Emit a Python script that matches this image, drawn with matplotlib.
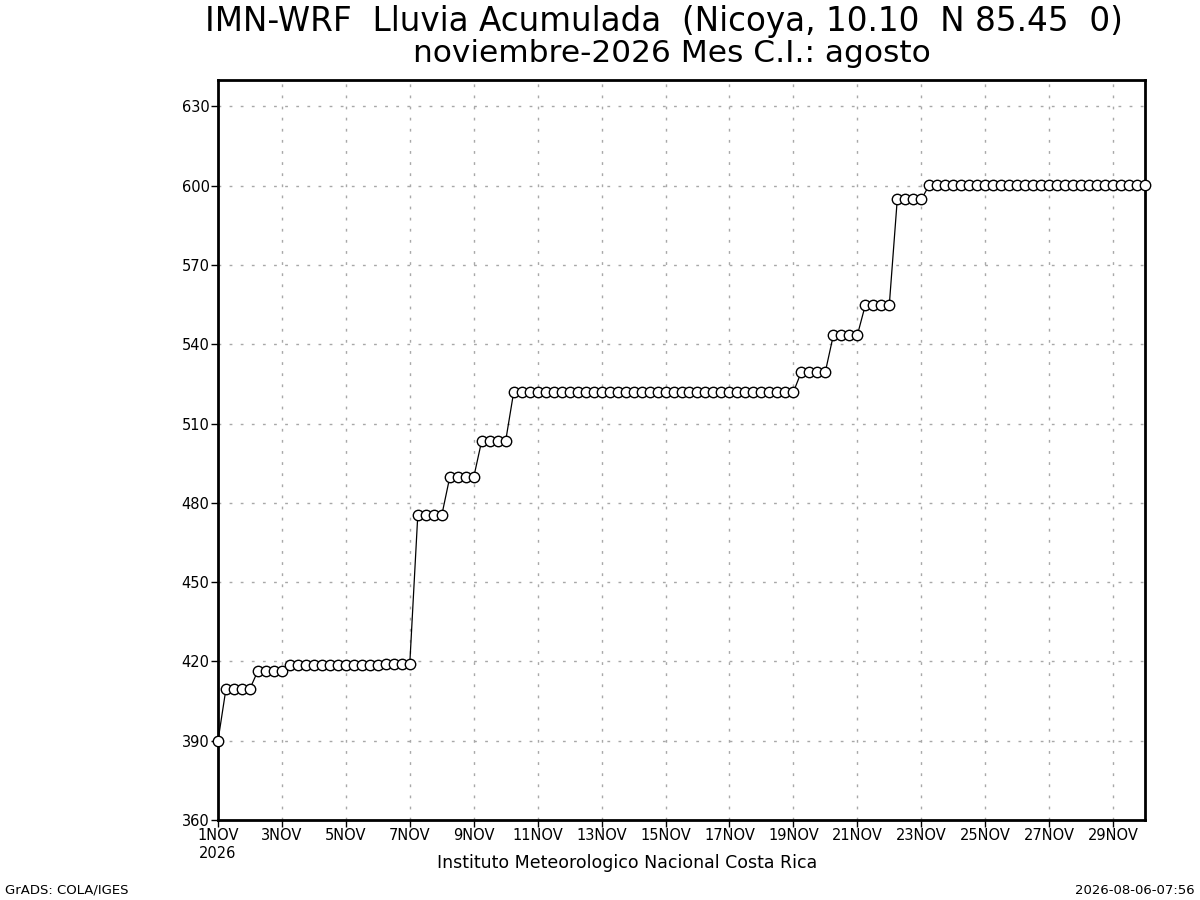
import matplotlib
matplotlib.use("Agg")
from matplotlib import pyplot as plt
import pandas as pd

# lluvia acumulada cada 6 horas (mm)
lluvia = [
    390.0,
    409.7, 409.7, 409.7, 409.7,
    416.5, 416.5, 416.5, 416.5,
    418.6, 418.6, 418.6, 418.6, 418.6, 418.6, 418.6, 418.6, 418.6, 418.6, 418.6, 418.6,
    419.2, 419.2, 419.2, 419.2,
    475.3, 475.3, 475.3, 475.3,
    489.7, 489.7, 489.7, 489.7,
    503.5, 503.5, 503.5, 503.5,
    521.9, 521.9, 521.9, 521.9, 521.9, 521.9, 521.9, 521.9, 521.9, 521.9, 521.9, 521.9,
    521.9, 521.9, 521.9, 521.9, 521.9, 521.9, 521.9, 521.9, 521.9, 521.9, 521.9, 521.9,
    521.9, 521.9, 521.9, 521.9, 521.9, 521.9, 521.9, 521.9, 521.9, 521.9, 521.9, 521.9,
    529.6, 529.6, 529.6, 529.6,
    543.4, 543.4, 543.4, 543.4,
    554.8, 554.8, 554.8, 554.8,
    594.8, 594.8, 594.8, 594.8,
    600.2, 600.2, 600.2, 600.2, 600.2, 600.2, 600.2, 600.2, 600.2, 600.2, 600.2, 600.2, 600.2, 600.2,
    600.2, 600.2, 600.2, 600.2, 600.2, 600.2, 600.2, 600.2, 600.2, 600.2, 600.2, 600.2, 600.2, 600.2,
]
fechas = pd.date_range("2026-11-01 00:00", periods=len(lluvia), freq="6h")

dias_etiqueta = [1, 3, 5, 7, 9, 11, 13, 15, 17, 19, 21, 23, 25, 27, 29]
y_ticks = [360, 390, 420, 450, 480, 510, 540, 570, 600, 630]

titulo1 = "IMN-WRF  Lluvia Acumulada  (Nicoya, 10.10  N 85.45  0)"
titulo2 = "noviembre-2026 Mes C.I.: agosto"

plt.rcParams["font.family"] = ["DejaVu Sans"]

fig = plt.figure(figsize=(12, 9), dpi=100)
ax = fig.add_axes([218 / 1200, 1 - 820 / 900, (1145 - 218) / 1200, (820 - 80) / 900])

ax.plot(fechas, lluvia, color="black", linewidth=0.9, marker="o", markersize=7.5,
        markerfacecolor="white", markeredgecolor="black", markeredgewidth=1.0,
        zorder=3, clip_on=False)

ax.set_xlim(pd.Timestamp("2026-11-01"), pd.Timestamp("2026-11-30"))
ax.set_ylim(360, 640)

tick_fechas = [pd.Timestamp(2026, 11, d) for d in dias_etiqueta]
ax.set_xticks(tick_fechas)
etiquetas = [f"{d}NOV" for d in dias_etiqueta]
etiquetas[0] = "1NOV\n2026"
ax.set_xticklabels(etiquetas, fontsize=10.5)
ax.set_yticks(y_ticks)
ax.set_yticklabels([str(v) for v in y_ticks], fontsize=10.5)
ax.tick_params(direction="out", length=5, width=1, pad=1)

# rejilla punteada gris
for v in y_ticks[1:]:
    ax.axhline(v, color="#a8a8a8", linewidth=1, linestyle=(0, (2, 6)), zorder=1)
for t in tick_fechas[1:]:
    ax.axvline(t, color="#a8a8a8", linewidth=1, linestyle=(0, (2, 6)), zorder=1)

for s in ax.spines.values():
    s.set_linewidth(2)

fig.text(664 / 1200, 1 - 21 / 900, titulo1, ha="center", va="center", fontsize=23.5)
fig.text(672 / 1200, 1 - 53 / 900, titulo2, ha="center", va="center", fontsize=22.5)
fig.text(627 / 1200, 1 - 863 / 900, "Instituto Meteorologico Nacional Costa Rica",
         ha="center", va="center", fontsize=12.5)
fig.text(5 / 1200, 1 - 890 / 900, "GrADS: COLA/IGES", ha="left", va="center", fontsize=9.5)
fig.text(1195 / 1200, 1 - 890 / 900, "2026-08-06-07:56", ha="right", va="center", fontsize=9.5)

fig.savefig("out.png", dpi=100)
